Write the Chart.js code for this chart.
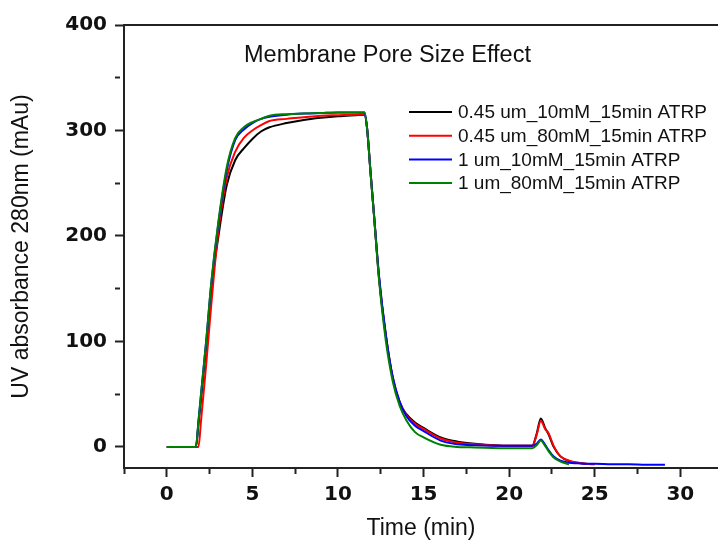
<!DOCTYPE html>
<html>
<head>
<meta charset="utf-8">
<title>Membrane Pore Size Effect</title>
<script src="https://cdn.jsdelivr.net/npm/chart.js@4.4.1/dist/chart.umd.min.js"></script>
<style>
  html, body { margin: 0; padding: 0; background: #fff; }
  #wrap { width: 718px; height: 550px; }
</style>
</head>
<body>
<div id="wrap"><canvas id="uvChart"></canvas></div>
<script>
const chartTitle = "Membrane Pore Size Effect";
const xTitle = "Time (min)";
const yTitle = "UV absorbance 280nm (mAu)";

const seriesLabels = [
  "0.45 um_10mM_15min ATRP",
  "0.45 um_80mM_15min ATRP",
  "1 um_10mM_15min ATRP",
  "1 um_80mM_15min ATRP"
];
const seriesColors = ["#000000", "#ff0000", "#0000ff", "#008000"];

// time in min, values in mAu (null = no reading)
const time = [0, 1.7, 1.85, 2.0, 2.3, 2.6, 3.0, 3.5, 4.0, 4.5,
  5.0, 5.5, 6.0, 7.0, 8.0, 9.0, 10.0, 11.0, 11.55, 11.7,
  11.9, 12.1, 12.4, 12.8, 13.2, 13.6, 14.0, 14.5, 15.0, 16.0,
  17.0, 18.0, 20.0, 21.35, 21.6, 21.85, 22.1, 22.3, 22.6, 23.0,
  23.5, 24.0, 24.5, 25.0, 26.0, 27.0, 28.0, 29.1];

const pore045_10mM = [0, 0, 22, 45, 95, 150, 198, 248, 272, 283,
  292, 299, 303, 307, 310, 312, 313.5, 314.5, 315, 302,
  261, 221, 160, 105, 65, 42, 31, 23, 18, 9,
  5, 3, 1, 1, 12, 27, 18, 12, 0, -9,
  -13.5, -15, -16, null, null, null, null, null];

const pore045_80mM = [0, 0, 0, 25, 78, 135, 203, 255, 280, 293,
  300, 305, 309, 311, 312.5, 314, 314.5, 315, 315.5, 302,
  261, 221, 160, 105, 66, 43, 30, 22, 17, 8,
  4, 2.5, 1, 1, 11, 24.5, 17, 13, 1, -9,
  -13, -15, -16, -16.5, null, null, null, null];

const pore1_10mM = [0, 0, 24, 50, 100, 155, 210, 262, 291, 301,
  307, 311, 313, 315, 316, 316.5, 317, 317, 317, 302,
  261, 221, 162, 106, 66, 43, 29, 20, 15, 6,
  2.5, 1.5, 1, 1, 3, 7, 2, -3, -9, -13,
  -15, -15.5, -16, -16, -16.5, -16.5, -17, -17];

const pore1_80mM = [0, 0, 24, 50, 100, 156, 212, 265, 293, 303,
  308, 311, 314, 315.5, 316, 316.5, 317, 317, 317, 302,
  260, 220, 158, 100, 62, 39, 25, 14, 9, 2,
  0, -0.5, -1.3, -1.3, 1.5, 6, 1, -4, -10, -14,
  -16.5, null, null, null, null, null, null, null];

const seriesValues = [pore045_10mM, pore045_80mM, pore1_10mM, pore1_80mM];
// green drawn on top, black at the bottom
const drawOrder = [3, 2, 1, 0];

const toPoints = vals => time.map((t, i) => ({ x: t, y: vals[i] })).filter(p => p.y !== null);
const onStep = (v, step) => Math.abs(v / step - Math.round(v / step)) < 1e-6;

const textFont = "'Liberation Sans', Arial, sans-serif";
const tickFont = { family: "'DejaVu Sans', sans-serif", size: 20, weight: "bold" };
const axisColor = "#222";

// title and legend sit inside the plot, plus the top frame line
const insidePlot = {
  id: "insidePlot",
  afterDraw(chart) {
    const { ctx, chartArea } = chart;
    ctx.save();
    ctx.strokeStyle = axisColor;
    ctx.lineWidth = 2;
    ctx.beginPath();
    ctx.moveTo(chartArea.left, chartArea.top);
    ctx.lineTo(chartArea.right, chartArea.top);
    ctx.stroke();

    ctx.fillStyle = "#111";
    ctx.textAlign = "left";
    ctx.textBaseline = "middle";
    ctx.font = "23.5px " + textFont;
    ctx.fillText(chartTitle, 244, 56);

    ctx.font = "19px " + textFont;
    chart.data.datasets.forEach((ds, i) => {
      const y = 112 + i * 23.7;
      ctx.strokeStyle = ds.borderColor;
      ctx.lineWidth = 2;
      ctx.beginPath();
      ctx.moveTo(409, y);
      ctx.lineTo(452, y);
      ctx.stroke();
      ctx.fillText(ds.label, 458, y + 1);
    });
    ctx.restore();
  }
};

new Chart(document.getElementById("uvChart"), {
  type: "line",
  data: {
    datasets: seriesLabels.map((label, i) => ({
      label: label,
      data: toPoints(seriesValues[i]),
      borderColor: seriesColors[i],
      backgroundColor: seriesColors[i],
      borderWidth: 2,
      pointRadius: 0,
      fill: false,
      cubicInterpolationMode: "monotone",
      order: drawOrder[i]
    }))
  },
  options: {
    responsive: true,
    maintainAspectRatio: false,
    animation: false,
    layout: { padding: { top: 25, right: 0, left: 0, bottom: 0 } },
    plugins: {
      legend: { display: false },
      tooltip: { enabled: false }
    },
    scales: {
      x: {
        type: "linear",
        min: -2.5,
        max: 32.2,
        afterBuildTicks: s => { s.ticks = s.ticks.filter(t => onStep(t.value, 2.5)); },
        afterFit: s => { s.height = 82; },
        ticks: {
          stepSize: 2.5,
          includeBounds: false,
          padding: 6,
          color: "#111",
          font: tickFont,
          maxRotation: 0,
          autoSkip: false,
          callback: v => (onStep(v, 5) && v >= 0 ? String(v) : "")
        },
        grid: {
          drawOnChartArea: false,
          tickLength: 9,
          tickWidth: 2,
          tickColor: axisColor,
          tickBorderDash: c => (c.tick && !onStep(c.tick.value, 5) ? [5, 20] : [])
        },
        border: { color: axisColor, width: 2 },
        title: {
          display: true,
          text: xTitle,
          color: "#111",
          font: { family: textFont, size: 23 },
          padding: { top: 4, bottom: 8 }
        }
      },
      y: {
        min: -20,
        max: 400,
        afterBuildTicks: s => { s.ticks = s.ticks.filter(t => onStep(t.value, 50)); },
        afterFit: s => { s.width = 124; },
        ticks: {
          stepSize: 50,
          includeBounds: false,
          padding: 8,
          color: "#111",
          font: tickFont,
          callback: v => (onStep(v, 100) ? String(v) : "")
        },
        grid: {
          drawOnChartArea: false,
          tickLength: 9,
          tickWidth: 2,
          tickColor: axisColor,
          tickBorderDash: c => (c.tick && !onStep(c.tick.value, 100) ? [5, 20] : [])
        },
        border: { color: axisColor, width: 2 },
        title: {
          display: true,
          text: yTitle,
          color: "#111",
          font: { family: textFont, size: 23 },
          padding: { top: 8, bottom: 0 }
        }
      }
    }
  },
  plugins: [insidePlot]
});
</script>
</body>
</html>
